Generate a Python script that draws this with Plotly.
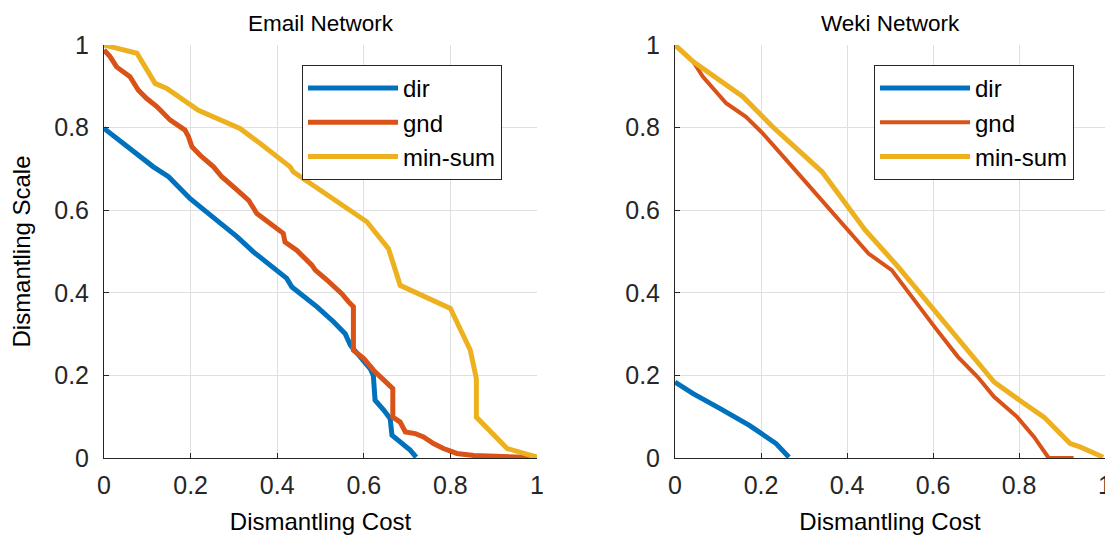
import plotly.graph_objects as go

# ---- Email Network data ----
email_dir_x = [0, 0.049, 0.114, 0.149, 0.199, 0.260, 0.307, 0.345, 0.384, 0.422, 0.434, 0.492, 0.530,
               0.557, 0.569, 0.584, 0.615, 0.622, 0.626, 0.646, 0.661, 0.665, 0.684, 0.707, 0.721]
email_dir_y = [0.798, 0.758, 0.705, 0.681, 0.628, 0.576, 0.536, 0.499, 0.467, 0.435, 0.414, 0.366, 0.330,
               0.301, 0.273, 0.253, 0.216, 0.200, 0.140, 0.116, 0.095, 0.055, 0.039, 0.019, 0.002]

email_gnd_x = [0, 0.014, 0.029, 0.060, 0.079, 0.098, 0.122, 0.153, 0.187, 0.195, 0.203, 0.222, 0.253,
               0.272, 0.307, 0.334, 0.353, 0.384, 0.414, 0.418, 0.445, 0.480, 0.488, 0.515, 0.549,
               0.565, 0.576, 0.576, 0.600, 0.623, 0.638, 0.667, 0.667, 0.684, 0.696, 0.719, 0.738,
               0.761, 0.784, 0.815, 0.854, 0.892, 0.931, 0.985]
email_gnd_y = [0.988, 0.972, 0.947, 0.923, 0.891, 0.871, 0.851, 0.818, 0.794, 0.778, 0.754, 0.733, 0.705,
               0.681, 0.649, 0.624, 0.592, 0.568, 0.544, 0.523, 0.503, 0.467, 0.455, 0.431, 0.398,
               0.378, 0.366, 0.261, 0.241, 0.212, 0.196, 0.168, 0.099, 0.087, 0.063, 0.059, 0.051,
               0.035, 0.023, 0.011, 0.006, 0.004, 0.002, 0.001]

email_ms_x = [0, 0.076, 0.118, 0.145, 0.218, 0.314, 0.360, 0.430, 0.437, 0.607, 0.657, 0.684, 0.800,
              0.846, 0.860, 0.860, 0.931, 1.0]
email_ms_y = [1.0, 0.980, 0.907, 0.895, 0.842, 0.798, 0.762, 0.705, 0.693, 0.572, 0.507, 0.418, 0.362,
              0.261, 0.192, 0.099, 0.023, 0.002]

# ---- Weki Network data ----
weki_dir_x = [0, 0.042, 0.104, 0.173, 0.235, 0.265]
weki_dir_y = [0.184, 0.156, 0.120, 0.079, 0.035, 0.002]

weki_gnd_x = [0, 0.042, 0.065, 0.119, 0.165, 0.204, 0.273, 0.335, 0.396, 0.450, 0.504, 0.550, 0.604,
              0.658, 0.704, 0.742, 0.796, 0.835, 0.858, 0.869, 0.927]
weki_gnd_y = [1.0, 0.960, 0.923, 0.859, 0.826, 0.786, 0.705, 0.632, 0.560, 0.495, 0.455, 0.390, 0.317,
              0.245, 0.196, 0.148, 0.099, 0.051, 0.019, 0.0, 0.0]

weki_ms_x = [0, 0.042, 0.158, 0.227, 0.342, 0.396, 0.442, 0.519, 0.596, 0.742, 0.812, 0.858, 0.919,
             0.942, 0.996]
weki_ms_y = [1.0, 0.960, 0.875, 0.802, 0.693, 0.616, 0.552, 0.463, 0.366, 0.184, 0.132, 0.099, 0.035,
             0.027, 0.002]

titles = ["Email Network", "Weki Network"]
series_names = ["dir", "gnd", "min-sum"]
tick_vals = [0, 0.2, 0.4, 0.6, 0.8, 1]
tick_text = ["0", "0.2", "0.4", "0.6", "0.8", "1"]

colors = ["#0072BD", "#D95319", "#EDB120"]
FONT = "Liberation Sans, Arial, sans-serif"

fig = go.Figure()
panels = [
    [(email_dir_x, email_dir_y), (email_gnd_x, email_gnd_y), (email_ms_x, email_ms_y)],
    [(weki_dir_x, weki_dir_y), (weki_gnd_x, weki_gnd_y), (weki_ms_x, weki_ms_y)],
]
for p, data in enumerate(panels):
    xa = "x" if p == 0 else "x2"
    ya = "y" if p == 0 else "y2"
    lg = "legend" if p == 0 else "legend2"
    for (xs, ys), name, c in zip(data, series_names, colors):
        w = 4 if (p == 1 and name == "gnd") else 5
        fig.add_trace(go.Scatter(x=xs, y=ys, mode="lines", name=name,
                                 line=dict(color=c, width=w), xaxis=xa, yaxis=ya,
                                 legend=lg, showlegend=True))

# The page body has an 8px default margin; lay out in page pixels minus that offset.
OFF = 8
W, H = 1113 - OFF, 540 - OFF


def px_x(v):
    return (v - OFF) / W


def px_y(v):
    return 1 - (v - OFF) / H


dom_y = [px_y(458), px_y(45)]
dom_x1 = [px_x(104), px_x(537)]
dom_x2 = [px_x(675), px_x(1105)]

axis_common = dict(range=[0, 1], tickvals=tick_vals, ticktext=tick_text, showgrid=True,
                   gridcolor="#DFDFDF", gridwidth=1, zeroline=False, showline=True,
                   linecolor="#262626", linewidth=1, ticks="inside", ticklen=5,
                   tickcolor="#262626", tickfont=dict(size=25, color="#262626", family=FONT),
                   fixedrange=True, automargin=False)

title_font = dict(size=24, family=FONT, color="black")

fig.update_layout(
    width=W, height=H,
    margin=dict(l=0, r=0, t=0, b=0),
    paper_bgcolor="white", plot_bgcolor="white",
    font=dict(family=FONT, color="#262626"),
    xaxis=dict(domain=dom_x1, anchor="y", ticklabelstandoff=5,
               title=dict(text="Dismantling Cost", font=title_font, standoff=15), **axis_common),
    yaxis=dict(domain=dom_y, anchor="x", ticklabelstandoff=9,
               title=dict(text="Dismantling Scale", font=title_font, standoff=23), **axis_common),
    xaxis2=dict(domain=dom_x2, anchor="y2", ticklabelstandoff=5,
                title=dict(text="Dismantling Cost", font=title_font, standoff=15), **axis_common),
    yaxis2=dict(domain=dom_y, anchor="x2", ticklabelstandoff=9, **axis_common),
    legend=dict(x=px_x(302), y=px_y(65), xanchor="left", yanchor="top", bgcolor="white",
                bordercolor="#262626", borderwidth=1, font=dict(size=24, family=FONT, color="black"),
                itemwidth=90, tracegroupgap=0),
    legend2=dict(x=px_x(874), y=px_y(65), xanchor="left", yanchor="top", bgcolor="white",
                 bordercolor="#262626", borderwidth=1, font=dict(size=24, family=FONT, color="black"),
                 itemwidth=90, tracegroupgap=0),
    annotations=[
        dict(text=titles[0], xref="paper", yref="paper", x=(dom_x1[0] + dom_x1[1]) / 2, y=px_y(23),
             xanchor="center", yanchor="middle", showarrow=False, font=dict(size=22.5, family=FONT, color="black")),
        dict(text=titles[1], xref="paper", yref="paper", x=(dom_x2[0] + dom_x2[1]) / 2, y=px_y(23),
             xanchor="center", yanchor="middle", showarrow=False, font=dict(size=22.5, family=FONT, color="black")),
    ],
)

fig.write_html("out.html")
